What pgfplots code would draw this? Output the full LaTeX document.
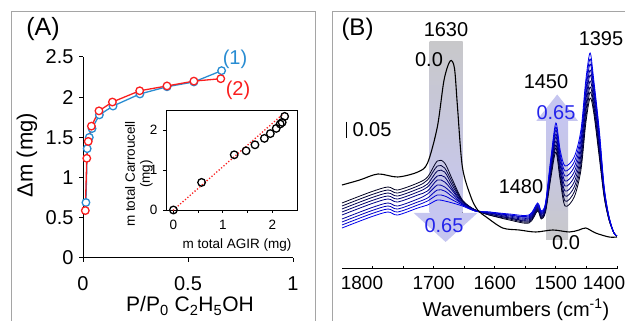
\documentclass[border=0pt]{standalone}
\usepackage{pgfplots}
\usepackage{pgfplotstable}
\pgfplotsset{compat=1.18}
\usepackage{fontspec}
\setmainfont{Liberation Sans}
\definecolor{cblue}{RGB}{40,140,210}
\definecolor{cred}{RGB}{250,30,30}
\definecolor{framec}{RGB}{165,165,165}
\definecolor{shgray}{RGB}{200,200,202}
\definecolor{shlav}{RGB}{198,198,240}
\definecolor{txtblue}{RGB}{35,35,235}
\colorlet{c1}{blue!12!black}
\colorlet{c2}{blue!22!black}
\colorlet{c3}{blue!32!black}
\colorlet{c4}{blue!42!black}
\colorlet{c5}{blue!52!black}
\colorlet{c6}{blue!62!black}
\colorlet{c7}{blue!72!black}
\colorlet{c8}{blue!82!black}
\colorlet{c9}{blue!92!black}
\pgfplotstableread{
wn   c1  c2  c3  c4  c5  c6  c7  c8  c9
1850 66  63  60  57  54  50  47  44  41
1803 77  74  71  68  65  61  58  55  52
1775 82  79  76  73  70  66  63  60  57
1759 79  76  73  70  67  63  60  57  54
1726 86  83  80  77  74  70  67  64  61
1710 92  89  85  82  78  75  71  68  64
1694 108 103 98  93  89  84  79  74  69
1682 106 101 97  92  87  82  78  73  68
1669 89  86  83  80  78  75  72  69  66
1653 69  68  68  67  66  65  65  64  63
1632 59  59  59  59  59  58  58  58  58
1609 54  54  55  55  56  56  56  57  57
1576 49  50  51  51  52  53  54  54  55
1544 46  47  48  49  50  51  52  53  54
1530 58  59  60  61  62  63  64  65  66
1524 50  51  52  53  54  55  56  57  58
1517 57  58  59  60  62  63  64  65  66
1508 92  95  97  100 102 105 107 110 112
1500 117 121 124 128 132 135 139 142 146
1493 89  93  97  100 104 108 112 115 119
1485 63  68  73  78  83  88  93  98  103
1470 72  77  82  87  92  97  102 107 112
1459 99  104 109 114 119 124 129 134 139
1451 146 151 157 162 168 173 178 184 189
1444 171 177 182 188 194 199 205 210 216
1438 156 160 164 168 173 177 181 185 189
1429 112 115 119 122 126 129 132 136 139
1421 72  73  75  76  77  78  80  81  82
1413 49  49  50  50  51  51  51  52  52
1405 36  36  36  36  36  36  36  36  36
1400 33  33  33  33  33  33  33  33  33
}\spectra
\pgfplotstableread{
wn   h
1850 84
1821 89
1791 95
1759 92
1726 97
1710 106
1694 142
1683 189
1673 208
1666 201
1661 162
1653 102
1639 72
1628 59
1614 52
1587 41
1560 39
1533 37
1505 39
1478 37
1462 39
1451 41
1435 36
1413 32
1400 32
}\zero
\begin{document}
\begin{tikzpicture}
\pgfplotsset{every axis/.append style={/pgf/number format/assume math mode=true}}
% panel frames
\draw[framec, line width=1pt] (11pt,0pt) -- (11pt,309pt) -- (315pt,309pt) -- (315pt,0pt);
\draw[framec, line width=1pt] (332pt,0pt) -- (332pt,309pt) -- (626pt,309pt);

% ---------- Panel A main ----------
\begin{axis}[at={(83pt,63pt)}, anchor=south west, scale only axis,
  width=210pt, height=201pt, xmin=0, xmax=1, ymin=0, ymax=2.5,
  axis lines*=left, tick align=outside, major tick length=4pt,
  xtick={0,0.5,1}, ytick={0,0.5,1,1.5,2,2.5},
  ticklabel style={font=\fontsize{20}{20}\selectfont},
  xticklabel style={yshift=-11pt},
  yticklabel style={xshift=-2pt},
  axis line style={line width=1pt}, tick style={line width=1pt, black},
  clip=false]
\addplot[cblue, line width=1.3pt, mark=*, mark size=3.8pt, mark options={fill=white, draw=cblue}]
 coordinates {(0.014,0.69) (0.02,1.36) (0.03,1.5) (0.043,1.61) (0.078,1.78) (0.143,1.89) (0.271,2.04) (0.40,2.13) (0.528,2.19) (0.66,2.33)};
\addplot[cred, line width=1.3pt, mark=*, mark size=3.8pt, mark options={fill=white, draw=cred}]
 coordinates {(0.011,0.59) (0.018,1.24) (0.025,1.45) (0.04,1.64) (0.076,1.83) (0.14,1.94) (0.27,2.08) (0.40,2.14) (0.528,2.2) (0.656,2.23)};
\end{axis}

% ---------- Panel A inset ----------
\begin{axis}[at={(166pt,111pt)}, anchor=south west, scale only axis,
  width=131pt, height=100pt, xmin=-0.15, xmax=2.5, ymin=0, ymax=2.5,
  xtick={0,1,2}, minor xtick={0.5,1.5}, ytick={0,1,2},
  xtick pos=left, ytick pos=left, tick align=outside,
  major tick length=3pt, minor tick length=3pt,
  ticklabel style={font=\fontsize{13.5}{13.5}\selectfont},
  xticklabel style={yshift=-4pt},
  yticklabel style={xshift=-2pt},
  axis background/.style={fill=white},
  axis line style={line width=0.8pt}, tick style={line width=0.8pt, black},
  clip=false]
\addplot[cred, line width=1.8pt, line cap=round, dash pattern=on 0pt off 3.2pt]
 coordinates {(0,0) (2.2,2.38)};
\addplot[only marks, mark=o, mark size=3.8pt, line width=1.3pt, black]
 coordinates {(0,0) (0.57,0.69) (1.23,1.38) (1.47,1.48) (1.65,1.63) (1.84,1.79) (1.96,1.91) (2.08,2.04) (2.16,2.15) (2.20,2.19) (2.25,2.34)};
\end{axis}

\node[font=\fontsize{25}{25}\selectfont] at (43pt,292pt) {(A)};
\node[font=\fontsize{22}{22}\selectfont, rotate=90] at (27pt,166pt) {Δm (mg)};
\node[font=\fontsize{21}{21}\selectfont] at (190pt,15pt) {P/P\textsubscript{0} C\textsubscript{2}H\textsubscript{5}OH};
\node[font=\fontsize{20}{20}\selectfont, text=cblue] at (235pt,262pt) {(1)};
\node[font=\fontsize{20}{20}\selectfont, text=cred] at (238pt,231pt) {(2)};
\node[font=\fontsize{13.5}{13.5}\selectfont] at (237pt,76pt) {m total AGIR (mg)};
\node[font=\fontsize{13.5}{15}\selectfont, rotate=90, align=center] at (139pt,147pt) {m total Carroucell\\(mg)};

% ---------- Panel B ----------
\begin{axis}[at={(342pt,52pt)}, anchor=south west, scale only axis,
  width=275pt, height=257pt, xmin=1400, xmax=1850, x dir=reverse,
  ymin=0, ymax=257, axis x line*=bottom, axis y line=none,
  xtick={1400,1450,1500,1550,1600,1650,1700,1750,1800}, xticklabels={,,1500,,1600,,1700,,},
  tick align=inside, major tick length=3pt,
  ticklabel style={font=\fontsize{19}{19}\selectfont},
  xticklabel style={yshift=-4pt},
  axis line style={line width=1pt}, tick style={line width=0.8pt, black},
  clip=false]
\fill[top color=shgray, bottom color=shlav] (axis cs:1706.5,56) rectangle (axis cs:1652.7,227);
\fill[shlav] (axis cs:1732.6,56) -- (axis cs:1628.3,56) -- (axis cs:1680.4,27) -- cycle;
\fill[top color=shlav, bottom color=shgray] (axis cs:1515.8,29) rectangle (axis cs:1479.9,148);
\fill[shlav] (axis cs:1532.1,148) -- (axis cs:1463.6,148) -- (axis cs:1497.8,174.5) -- cycle;
\pgfplotsinvokeforeach{1,...,9}{
  \addplot[color=c#1, line width=0.8pt, smooth, tension=0.5] table[x=wn, y=c#1] {\spectra};
}
\addplot[black, line width=1.1pt, smooth, tension=0.5] table[x=wn, y=h] {\zero};
\end{axis}

\node[font=\fontsize{19}{19}\selectfont] at (362pt,38pt) {1800};
\node[font=\fontsize{19}{19}\selectfont] at (604pt,38pt) {1400};
\node[font=\fontsize{24}{24}\selectfont] at (357.5pt,292pt) {(B)};
\node[font=\fontsize{20}{20}\selectfont] at (446pt,291pt) {1630};
\node[font=\fontsize{20}{20}\selectfont] at (429pt,261pt) {0.0};
\draw[black, line width=0.8pt] (346.7pt,199.3pt) -- (346.7pt,182.7pt);
\node[font=\fontsize{20}{20}\selectfont] at (372pt,191pt) {0.05};
\node[font=\fontsize{20}{20}\selectfont] at (546pt,239pt) {1450};
\node[font=\fontsize{20}{20}\selectfont, text=txtblue] at (556pt,208pt) {0.65};
\node[font=\fontsize{20}{20}\selectfont] at (601pt,282pt) {1395};
\node[font=\fontsize{20}{20}\selectfont] at (521pt,134pt) {1480};
\node[font=\fontsize{20}{20}\selectfont, text=txtblue] at (444pt,95pt) {0.65};
\node[font=\fontsize{20}{20}\selectfont] at (566pt,78.5pt) {0.0};
\node[font=\fontsize{20}{20}\selectfont] at (516pt,11pt) {Wavenumbers (cm\textsuperscript{-1})};

\pgfresetboundingbox
\useasboundingbox (0pt,0pt) rectangle (625pt,321pt);
\end{tikzpicture}
\end{document}
